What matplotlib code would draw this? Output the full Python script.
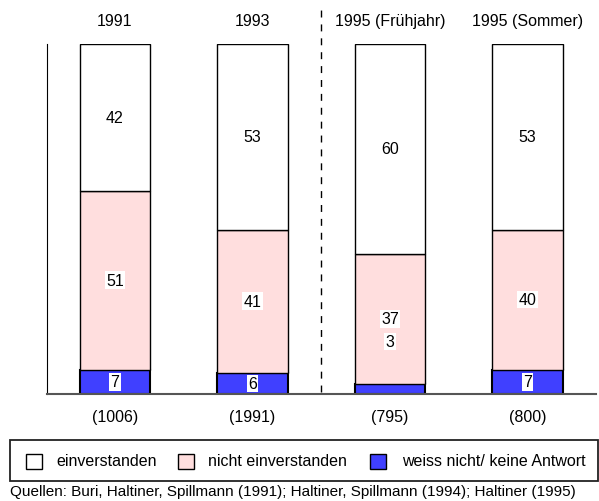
import numpy as np
import matplotlib
matplotlib.use("Agg")
import matplotlib.pyplot as plt
from matplotlib.patches import Rectangle

plt.rcParams["font.family"] = ["Liberation Sans", "DejaVu Sans"]

years      = ["1991", "1993", "1995 (Frühjahr)", "1995 (Sommer)"]
counts     = ["(1006)", "(1991)", "(795)", "(800)"]
weiss      = [7, 6, 3, 7]
nicht_einv = [51, 41, 37, 40]
einv       = [42, 53, 60, 53]
leg_labels = ["einverstanden", "nicht einverstanden", "weiss nicht/ keine Antwort"]
source = ("Quellen: Buri, Haltiner, Spillmann (1991); Haltiner, Spillmann (1994); "
          "Haltiner (1995)")

C_WHITE, C_PINK, C_BLUE = "white", "#FFDEDE", "#4040FF"
W, H = 599, 502

fig = plt.figure(figsize=(W / 100, H / 100), dpi=100)
ax = fig.add_axes([47 / W, 107 / H, 549 / W, 350 / H])

x = np.arange(len(years))
w = 0.51
segs = [(weiss, C_BLUE, 1.5), (nicht_einv, C_PINK, 1.0), (einv, C_WHITE, 1.0)]
bottom = np.zeros(len(years))
for vals, col, lw in segs:
    vals = np.asarray(vals, dtype=float)
    ax.bar(x, vals, w, bottom=bottom, color=col, edgecolor="black", lw=lw)
    for xi, b, v in zip(x, bottom, vals):
        y = b + v / 2 if v >= 5 else b + v + 12
        ax.text(xi, y, f"{v:.0f}", ha="center", va="center", fontsize=11.5,
                bbox=dict(facecolor="white", edgecolor="none", pad=1))
    bottom += vals

for xi, yr, n in zip(x, years, counts):
    ax.text(xi, 106.6, yr, ha="center", va="center", fontsize=11.5, clip_on=False)
    ax.text(xi, -6.3, n, ha="center", va="center", fontsize=11.5, clip_on=False)

ax.plot([1.5, 1.5], [0.5, 110], color="black", ls=(0, (5, 5)), lw=1, clip_on=False)

ax.set_xlim(-0.4945, 3.498)
ax.set_ylim(0, 100)
ax.set_xticks([])
ax.set_yticks([])
for s in ["top", "right"]:
    ax.spines[s].set_visible(False)
ax.spines["bottom"].set_color("#555555")
ax.spines["bottom"].set_linewidth(1.5)

# legend drawn by hand to match the boxed row layout
fig.patches.append(Rectangle((10 / W, 1 - 482 / H), 588 / W, 41 / H,
                             transform=fig.transFigure, facecolor="none",
                             edgecolor="#222222", lw=1.3))
for hx, tx, col, lab in zip([26, 178, 370], [56, 208, 402],
                            [C_WHITE, C_PINK, C_BLUE], leg_labels):
    fig.patches.append(Rectangle((hx / W, 1 - 470 / H), 16 / W, 15 / H,
                                 transform=fig.transFigure, facecolor=col,
                                 edgecolor="black", lw=1))
    fig.text(tx / W, 1 - 462 / H, lab, ha="left", va="center", fontsize=11.5)

fig.text(10 / W, 1 - 492 / H, source, ha="left", va="center", fontsize=11)

fig.savefig("out.png", dpi=100)
